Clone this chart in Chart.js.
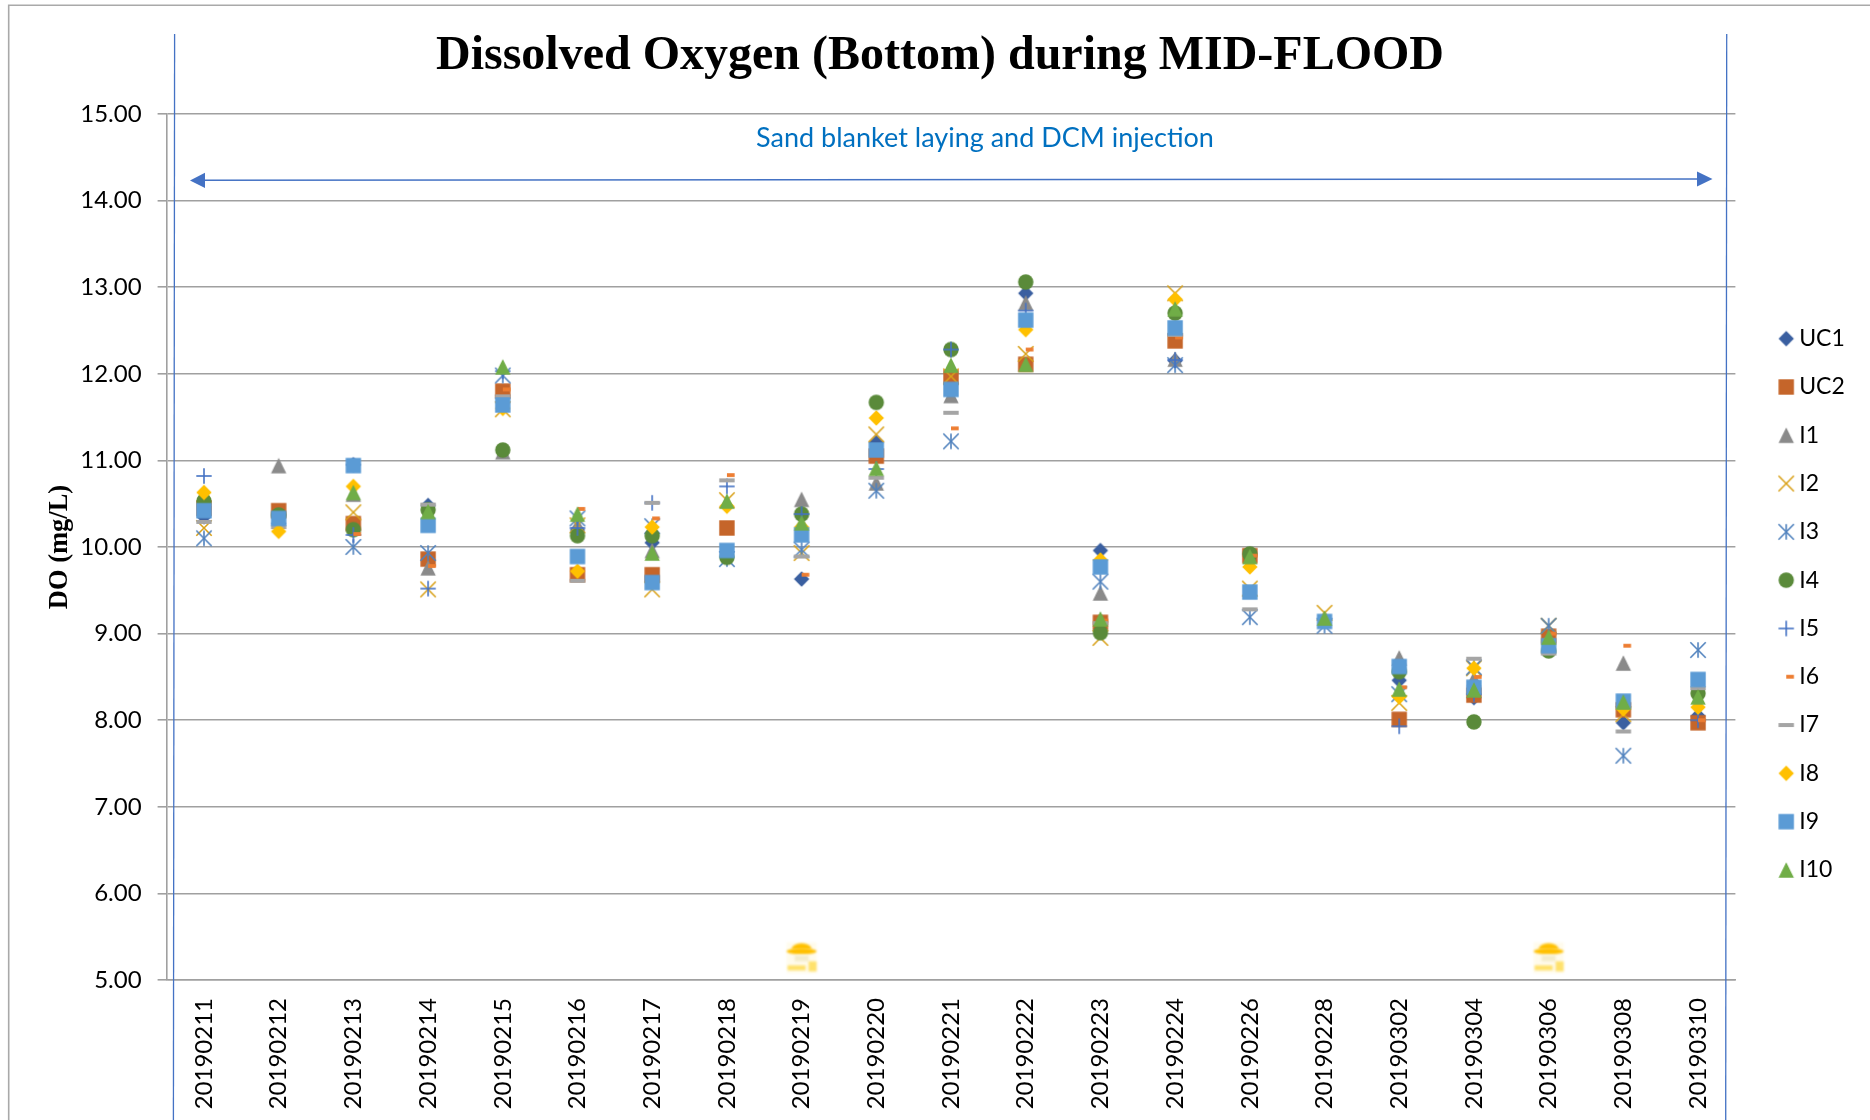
<!DOCTYPE html>
<html><head><meta charset="utf-8">
<style>html,body{margin:0;padding:0;background:#fff}canvas{display:block}</style>
<script src="https://cdn.jsdelivr.net/npm/chart.js@4/dist/chart.umd.js"></script>
</head><body><canvas id="c" width="1870" height="1120"></canvas>
<script>
const dates = ['20190211','20190212','20190213','20190214','20190215','20190216','20190217','20190218','20190219','20190220','20190221','20190222','20190223','20190224','20190226','20190228','20190302','20190304','20190306','20190308','20190310'];
const UC1 = [10.35,10.27,10.95,10.48,11.75,10.20,10.05,null,9.63,11.21,null,12.93,9.96,12.15,null,null,8.46,8.26,null,7.97,8.05];
const UC2 = [10.45,10.42,10.27,9.86,11.80,9.68,9.68,10.22,null,11.05,11.96,12.11,9.13,12.38,9.90,null,8.01,8.29,8.97,8.12,7.97];
const I1  = [10.45,10.94,10.61,9.76,11.10,10.25,9.96,null,10.55,10.74,11.75,12.82,9.47,12.17,null,null,8.72,8.48,null,8.66,null];
const I2  = [10.22,null,10.40,9.51,11.59,10.25,9.51,10.54,9.93,11.30,11.97,12.23,8.95,12.93,9.52,9.24,8.20,8.60,9.09,8.07,null];
const I3  = [10.10,null,10.00,9.93,11.98,10.33,10.24,9.86,9.97,10.65,11.22,null,9.60,12.10,9.19,9.09,8.30,8.61,9.09,7.59,8.81];
const I4  = [10.53,10.37,10.20,10.43,11.12,10.13,10.13,9.88,10.38,11.67,12.28,13.06,9.01,12.70,9.92,null,8.56,7.98,8.80,null,8.31];
const I5  = [10.82,null,10.14,9.52,12.03,10.22,10.51,10.70,10.38,10.90,12.28,12.73,null,12.16,null,null,7.93,8.30,null,null,8.00];
const I6  = [10.45,null,10.15,9.78,11.82,10.44,10.33,10.83,9.68,null,11.37,12.28,9.15,12.42,9.90,null,8.38,8.50,9.00,8.86,8.00];
const I7  = [10.29,10.23,null,10.49,11.74,9.61,10.51,10.77,9.89,10.80,11.55,null,9.12,12.45,9.28,null,null,8.71,8.77,7.87,8.37];
const I8  = [10.63,10.18,10.70,null,11.60,9.72,10.23,10.47,10.23,11.49,null,12.51,9.85,12.86,9.77,null,8.27,8.60,8.90,8.13,8.15];
const I9  = [10.42,10.33,10.94,10.25,11.64,9.89,9.59,9.96,10.14,11.12,11.82,12.62,9.77,12.53,9.48,9.14,8.62,8.38,8.86,8.22,8.47];
const I10 = [null,null,10.63,10.41,12.08,10.38,9.93,10.53,10.28,10.91,12.10,12.11,9.17,12.75,9.89,9.18,8.36,8.35,8.96,8.21,8.27];

const seriesNames = ['UC1','UC2','I1','I2','I3','I4','I5','I6','I7','I8','I9','I10'];
const seriesValues = [UC1,UC2,I1,I2,I3,I4,I5,I6,I7,I8,I9,I10];
const seriesColors = ['#3A5FA0','#C5652A','#8A8A8A','#D9A21B','#4F81BD','#5A8A3A','#4472C4','#ED7D31','#A5A5A5','#FFC000','#5B9BD5','#70AD47'];
const seriesShapes = ['diamond','square','triangle','x','star','circle','plus','shortDash','longDash','diamond','square','triangle'];

const TITLE = 'Dissolved Oxygen (Bottom) during MID-FLOOD';
const NOTE = 'Sand blanket laying and DCM injection';
const YTITLE = 'DO (mg/L)';
const SERIF = '"Liberation Serif"';
const SANS = 'Lato';

function marker(shape, color){
  const s = 24, c = document.createElement('canvas');
  c.width = c.height = s;
  const g = c.getContext('2d');
  g.translate(s/2, s/2);
  g.fillStyle = color; g.strokeStyle = color; g.lineWidth = 1.6;
  const h = 7.7;
  const line = (a,b,d,e)=>{g.beginPath();g.moveTo(a,b);g.lineTo(d,e);g.stroke();};
  if (shape==='diamond'){g.beginPath();g.moveTo(0,-h);g.lineTo(h,0);g.lineTo(0,h);g.lineTo(-h,0);g.closePath();g.fill();}
  if (shape==='square'){g.fillRect(-h,-h,2*h,2*h);}
  if (shape==='triangle'){g.beginPath();g.moveTo(0,-h);g.lineTo(h,h);g.lineTo(-h,h);g.closePath();g.fill();}
  if (shape==='circle'){g.beginPath();g.arc(0,0,h,0,Math.PI*2);g.fill();}
  if (shape==='x'){line(-h,-h,h,h);line(-h,h,h,-h);}
  if (shape==='star'){line(-h,-h,h,h);line(-h,h,h,-h);line(0,-h,0,h);}
  if (shape==='plus'){line(-h,0,h,0);line(0,-h,0,h);}
  if (shape==='shortDash'){g.fillRect(0,-1.9,h,3.8);}
  if (shape==='longDash'){g.fillRect(-h,-2,2*h,4);}
  return c;
}

const datasets = seriesNames.map((name,i)=>({
  label: name,
  data: seriesValues[i],
  order: seriesNames.length - i,
  showLine: false,
  pointStyle: marker(seriesShapes[i], seriesColors[i]),
  pointRadius: 8,
  pointBackgroundColor: seriesColors[i],
  pointBorderColor: seriesColors[i],
  backgroundColor: seriesColors[i],
  borderColor: seriesColors[i],
  clip: false
}));

const decoration = {
  id:'decoration',
  beforeLayout(chart){
    const l = chart.legend;
    if (!l.__wrapped){
      const f = l.fit;
      l.fit = function(){ f.call(this); this.width = 134.6; };
      l.__wrapped = true;
    }
  },
  afterLayout(chart){
    const l = chart.legend;
    l.left += 24; l.right += 24;
    l.top += 44.3; l.bottom += 44.3;
    const t = chart.titleBlock;
    t.left += 5; t.right += 5;
  },
  afterDraw(chart){
    const g = chart.ctx;
    g.save();
    g.strokeStyle='#A9A9A9'; g.lineWidth=1.6;
    g.beginPath(); g.moveTo(8.7,1120); g.lineTo(8.7,5.3); g.lineTo(1870,5.3); g.stroke();
    g.strokeStyle='#4472C4'; g.lineWidth=1.3;
    g.beginPath(); g.moveTo(174.6,34); g.lineTo(173.4,1120); g.stroke();
    g.beginPath(); g.moveTo(1726.7,34); g.lineTo(1725.7,1120); g.stroke();
    g.fillStyle='#4472C4'; g.lineWidth=1.5;
    g.beginPath(); g.moveTo(200,180.3); g.lineTo(1700,179); g.stroke();
    g.beginPath(); g.moveTo(190,180.4); g.lineTo(205,172.8); g.lineTo(205,188); g.closePath(); g.fill();
    g.beginPath(); g.moveTo(1712.5,179); g.lineTo(1697,171.4); g.lineTo(1697,186.6); g.closePath(); g.fill();
    g.fillStyle='#0070C0'; g.font='27px '+SANS; g.textAlign='center'; g.textBaseline='middle';
    g.fillText(NOTE,985,138);
    const xs = chart.scales.x, ys = chart.scales.y;
    [8,18].forEach(k=>{
      const x = xs.getPixelForValue(k), y = ys.getPixelForValue(5.25);
      g.save();
      g.filter='blur(1px)';
      g.fillStyle='#FFFBEC'; g.fillRect(x-15,y-16,30,31);
      g.fillStyle='#FFC000';
      g.beginPath(); g.ellipse(x,y-7,15,3,0,0,Math.PI*2); g.fill();
      g.beginPath(); g.ellipse(x,y-9,10,6,0,Math.PI,0); g.fill();
      g.fillStyle='#F3ECCB'; g.fillRect(x-7,y-3,14,6);
      g.fillStyle='#FFE16B'; g.fillRect(x-14,y+7,18,5); g.fillRect(x+7,y+3,8,10);
      g.restore();
    });
    g.restore();
  }
};

new Chart(document.getElementById('c'),{
  type:'line',
  data:{labels:dates,datasets},
  options:{
    responsive:false,
    animation:false,
    devicePixelRatio:1,
    layout:{padding:0},
    plugins:{
      tooltip:{enabled:false},
      title:{display:true,text:TITLE,color:'#000',font:{family:SERIF,size:48,weight:'bold',lineHeight:1.2},padding:{top:28,bottom:28.4}},
      legend:{position:'right',labels:{usePointStyle:true,sort:(a,b)=>a.datasetIndex-b.datasetIndex,boxWidth:3,boxHeight:15,padding:25.3,color:'#000',font:{family:SANS,size:23}}}
    },
    scales:{
      x:{
        type:'category',
        offset:true,
        afterFit(s){s.height=140;},
        grid:{display:false},
        border:{display:true,color:'#A0A0A0',width:1.6},
        ticks:{autoSkip:false,minRotation:90,maxRotation:90,padding:10,color:'#000',font:{family:SANS,size:24}}
      },
      y:{
        min:5,max:15,
        afterFit(s){s.width=166.6;},
        border:{display:true,color:'#A0A0A0',width:1.6},
        grid:{color:'#A0A0A0',lineWidth:1.6,tickLength:9,drawTicks:true},
        title:{display:true,text:YTITLE,color:'#000',font:{family:SERIF,size:26.5,weight:'bold'},padding:{top:44,bottom:0}},
        ticks:{stepSize:1,padding:16,color:'#000',font:{family:SANS,size:24},callback:v=>Number(v).toFixed(2)}
      }
    }
  },
  plugins:[decoration]
});
</script></body></html>
